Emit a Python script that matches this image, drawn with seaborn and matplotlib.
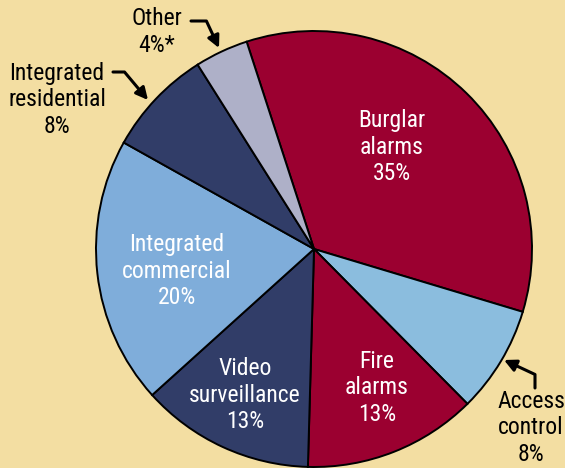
import matplotlib
matplotlib.use("Agg")
import matplotlib.pyplot as plt
import seaborn as sns

# market share by segment, clockwise from the top
segments = ["Burglar alarms", "Access control", "Fire alarms", "Video surveillance",
            "Integrated commercial", "Integrated residential", "Other"]
shares = [35, 8, 13, 13, 20, 8, 4]
labels = ["Burglar\nalarms\n35%", "Access\ncontrol\n8%", "Fire\nalarms\n13%",
          "Video\nsurveillance\n13%", "Integrated\ncommercial\n20%",
          "Integrated\nresidential\n8%", "Other\n4%*"]
colors = ["#9B0030", "#8BBDDE", "#9B0030", "#313D68", "#7FADDA", "#313D68", "#AEB0C8"]

bg = "#F3DEA2"
sns.set_theme(style="white", rc={"figure.facecolor": bg, "axes.facecolor": bg,
                                 "text.color": "black"})
plt.rcParams["font.family"] = ["Roboto Condensed", "DejaVu Sans"]

fig = plt.figure(figsize=(5.65, 4.68), dpi=100)
ax = fig.add_axes([0, 0, 1, 1])

cx, cy, r = 314, 219, 218
wedges, _ = ax.pie(shares, colors=colors, startangle=108, counterclock=False,
                   center=(cx, cy), radius=r, frame=True,
                   wedgeprops=dict(edgecolor="black", linewidth=1.4))
ax.set_xlim(0, 565)
ax.set_ylim(0, 468)
ax.set_aspect("equal")
ax.axis("off")

fs = 17
ls = 1.22
# labels inside the wedges
inside = {0: (392, 468 - 147), 2: (377, 468 - 388), 3: (245, 468 - 395), 4: (177, 468 - 271)}
for i, (x, y) in inside.items():
    ax.text(x, y, labels[i], color="white", fontsize=fs, ha="center", va="center",
            linespacing=ls)

# labels outside with bent arrows
arrow = dict(arrowstyle="-|>,head_length=0.6,head_width=0.3", color="black", lw=2.2,
             shrinkA=0, shrinkB=0)
ax.text(157, 468 - 32, labels[6], fontsize=fs, ha="center", va="center", linespacing=ls)
ax.annotate("", xy=(219, 468 - 48), xytext=(191, 468 - 21),
            arrowprops=dict(arrow, connectionstyle="angle,angleA=0,angleB=-65,rad=0"))
ax.text(57, 468 - 100, labels[5], fontsize=fs, ha="center", va="center", linespacing=ls)
ax.annotate("", xy=(148, 468 - 100), xytext=(113, 468 - 72),
            arrowprops=dict(arrow, connectionstyle="angle,angleA=0,angleB=-50,rad=0"))
ax.text(531, 468 - 428, labels[1], fontsize=fs, ha="center", va="center", linespacing=ls)
ax.annotate("", xy=(504, 468 - 360), xytext=(535, 468 - 388),
            arrowprops=dict(arrow, connectionstyle="angle,angleA=90,angleB=-25,rad=0"))

fig.savefig("out.png", dpi=100, facecolor=bg)
